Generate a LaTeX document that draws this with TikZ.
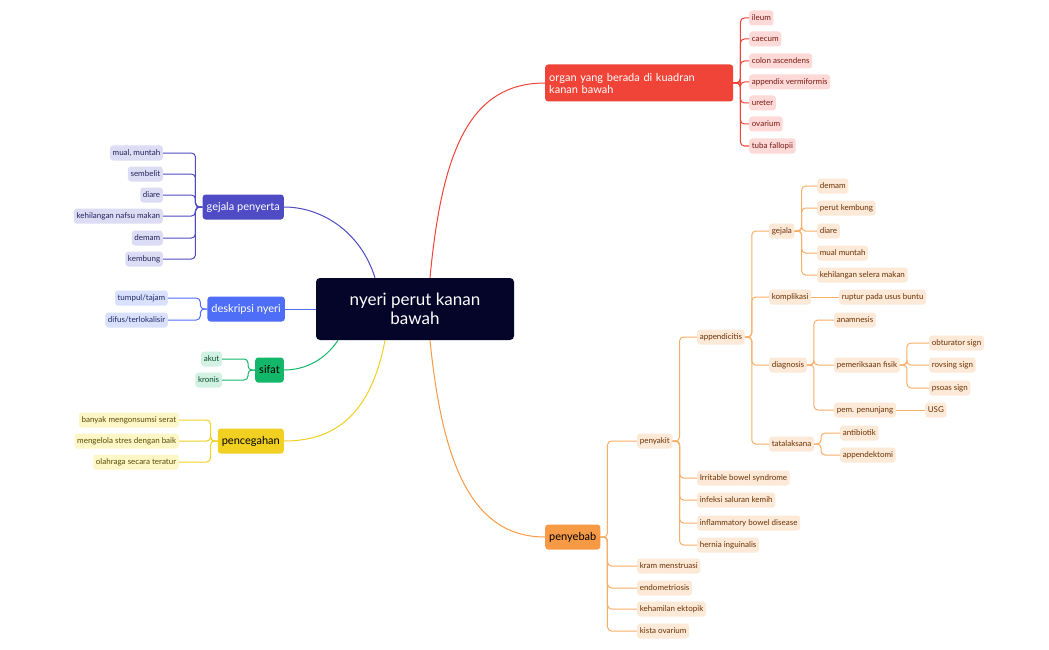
\documentclass[tikz,border=0pt]{standalone}
\usepackage{fontspec}
\setmainfont{Lato}
\begin{document}
\begin{tikzpicture}[x=1pt,y=-1pt,
  c/.style={rounded corners=3pt,inner sep=2.6pt,minimum height=15pt,font=\fontsize{8}{9}\selectfont},
  cr/.style={c,anchor=west},
  cl/.style={c,anchor=east},
  L1/.style={rounded corners=3pt,inner sep=4pt,minimum height=25pt,text=white,font=\fontsize{11}{12}\selectfont},
  ro/.style={cr,fill=orgL,text=orgT},
  rr/.style={cr,fill=redL,text=redT},
  bus/.style={rounded corners=4pt,line width=1pt}]
\definecolor{redM}{HTML}{F04438}\definecolor{redL}{HTML}{FDD9D7}\definecolor{redT}{HTML}{7A1A12}
\definecolor{orgM}{HTML}{F79A45}\definecolor{orgL}{HTML}{FDE9D7}\definecolor{orgT}{HTML}{6B3305}\definecolor{orgD}{HTML}{F8AE66}
\definecolor{indM}{HTML}{4E4BC4}\definecolor{indL}{HTML}{DCDCF4}\definecolor{indT}{HTML}{25245E}
\definecolor{bluM}{HTML}{4F6EF7}\definecolor{bluL}{HTML}{DAE1FD}\definecolor{bluT}{HTML}{1D2B66}
\definecolor{grnM}{HTML}{12B76A}\definecolor{grnL}{HTML}{D1F2E2}\definecolor{grnT}{HTML}{0A4A2C}
\definecolor{yelM}{HTML}{F2D022}\definecolor{yelL}{HTML}{FDF6C6}\definecolor{yelT}{HTML}{5A4A05}
\definecolor{navy}{HTML}{05052A}
\newcommand\conR[3]{\foreach \cc in {#3}{\draw[bus,#1] (#2.east) -- ++(7,0) |- (\cc.west);}}
\newcommand\conL[3]{\foreach \cc in {#3}{\draw[bus,#1] (#2.west) -- ++(-7,0) |- (\cc.east);}}
\path[use as bounding box,fill=white] (0,0) rectangle (1049,650);

% center
\node[fill=navy,text=white,rounded corners=4pt,minimum width=198pt,minimum height=62pt,align=center,font=\fontsize{17}{19}\selectfont] (root) at (415,309) {nyeri perut kanan\\bawah};

% level 1
\node[L1,fill=redM,anchor=west,align=left,minimum height=37pt,text width=180pt] (organ) at (545,83) {organ yang berada di kuadran\\kanan bawah};
\node[L1,fill=orgM,anchor=west,text=black] (sebab) at (545,537) {penyebab};
\node[L1,fill=indM,anchor=east] (gp) at (284,207) {gejala penyerta};
\node[L1,fill=bluM,anchor=east] (dn) at (285,309) {deskripsi nyeri};
\node[L1,fill=grnM,anchor=east,text=black] (sf) at (284,370) {sifat};
\node[L1,fill=yelM,anchor=east,text=black] (pc) at (284,441) {pencegahan};

% root curves
\draw[redM,line width=1pt] (root.north)++(15,0) .. controls (442,150) and (470,83) .. (organ.west);
\draw[orgM,line width=1pt] (root.south)++(15,0) .. controls (442,460) and (470,537) .. (sebab.west);
\draw[indM,line width=1pt] (root.north)++(-40,0) .. controls (360,230) and (320,207) .. (gp.east);
\draw[bluM,line width=1pt] (root.west) -- (dn.east);
\draw[grnM,line width=1pt] (root.south)++(-77,0) .. controls (325,360) and (305,370) .. (sf.east);
\draw[yelM,line width=1pt] (root.south)++(-30,0) .. controls (370,420) and (330,441) .. (pc.east);

% organ children
\foreach \n/\t/\y in {o1/ileum/18,o2/caecum/39,o3/colon ascendens/61,o4/appendix vermiformis/82,o5/ureter/103,o6/ovarium/124,o7/tuba fallopii/146}
  \node[rr] (\n) at (749,\y) {\t};
\conR{redM}{organ}{o1,o2,o3,o4,o5,o6,o7}

% penyebab
\node[ro] (pk) at (637,441) {penyakit};
\node[ro] (km) at (637,566) {kram menstruasi};
\node[ro] (en) at (637,588) {endometriosis};
\node[ro] (ke) at (637,609) {kehamilan ektopik};
\node[ro] (ko) at (637,631) {kista ovarium};
\conR{orgD}{sebab}{pk,km,en,ke,ko}

\node[ro] (ap) at (697,337) {appendicitis};
\node[ro] (ib) at (697,478) {Irritable bowel syndrome};
\node[ro] (is) at (697,500) {infeksi saluran kemih};
\node[ro] (id) at (697,523) {inflammatory bowel disease};
\node[ro] (hi) at (697,545) {hernia inguinalis};
\conR{orgD}{pk}{ap,ib,is,id,hi}

\node[ro] (gj) at (769,231) {gejala};
\node[ro] (kp) at (769,297) {komplikasi};
\node[ro] (dg) at (769,365) {diagnosis};
\node[ro] (tl) at (769,444) {tatalaksana};
\conR{orgD}{ap}{gj,kp,dg,tl}

\foreach \n/\t/\y in {g1/demam/186,g2/perut kembung/208,g3/diare/231,g4/mual muntah/253,g5/kehilangan selera makan/275}
  \node[ro] (\n) at (817,\y) {\t};
\conR{orgD}{gj}{g1,g2,g3,g4,g5}

\node[ro] (ru) at (839,297) {ruptur pada usus buntu};
\draw[bus,orgD] (kp) -- (ru);

\node[ro] (an) at (834,320) {anamnesis};
\node[ro] (pf) at (834,365) {pemeriksaan fisik};
\node[ro] (pp) at (834,410) {pem. penunjang};
\conR{orgD}{dg}{an,pf,pp}

\node[ro] (ob) at (929,343) {obturator sign};
\node[ro] (rv) at (929,365) {rovsing sign};
\node[ro] (ps) at (929,388) {psoas sign};
\conR{orgD}{pf}{ob,rv,ps}

\node[ro] (usg) at (925,410) {USG};
\draw[bus,orgD] (pp) -- (usg);

\node[ro] (ab) at (840,433) {antibiotik};
\node[ro] (ae) at (840,455) {appendektomi};
\conR{orgD}{tl}{ab,ae}

% left side
\foreach \n/\t/\y in {p1/{mual, muntah}/153,p2/sembelit/174,p3/diare/195,p4/kehilangan nafsu makan/216,p5/demam/238,p6/kembung/259}
  \node[cl,fill=indL,text=indT] (\n) at (163,\y) {\t};
\conL{indM}{gp}{p1,p2,p3,p4,p5,p6}

\node[cl,fill=bluL,text=bluT] (d1) at (168,298) {tumpul/tajam};
\node[cl,fill=bluL,text=bluT] (d2) at (168,320) {difus/terlokalisir};
\conL{bluM}{dn}{d1,d2}

\node[cl,fill=grnL,text=grnT] (s1) at (222,359) {akut};
\node[cl,fill=grnL,text=grnT] (s2) at (222,380) {kronis};
\conL{grnM}{sf}{s1,s2}

\node[cl,fill=yelL,text=yelT] (c1) at (179,420) {banyak mengonsumsi serat};
\node[cl,fill=yelL,text=yelT] (c2) at (179,441) {mengelola stres dengan baik};
\node[cl,fill=yelL,text=yelT] (c3) at (179,462) {olahraga secara teratur};
\conL{yelM}{pc}{c1,c2,c3}
\end{tikzpicture}
\end{document}
